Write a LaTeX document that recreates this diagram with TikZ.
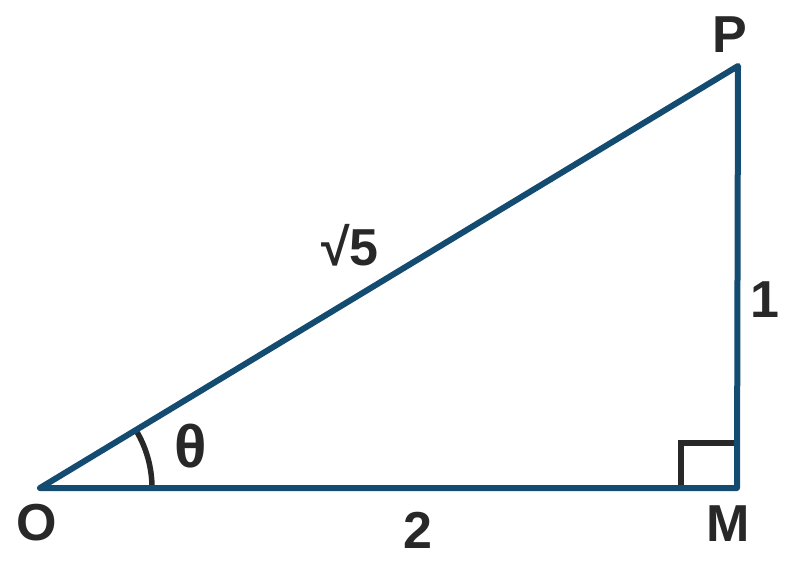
\documentclass[tikz,border=0pt]{standalone}
\usepackage{fontspec}
\setmainfont{Liberation Sans}
\begin{document}
\begin{tikzpicture}[x=1pt,y=-1pt,
  side/.style={line width=6pt, draw={rgb,255:red,20;green,75;blue,112}, line join=round, line cap=round},
  anglemark/.style={line width=5.5pt, draw={rgb,255:red,40;green,40;blue,40}},
  lbl/.style={text={rgb,255:red,40;green,40;blue,40}, font=\fontsize{52}{56}\selectfont\bfseries, inner sep=0pt}]
\useasboundingbox (0,0) rectangle (790,569);
\coordinate (O) at (40,488);
\coordinate (M) at (737,488);
\coordinate (P) at (738,66);
\draw[anglemark] (681,488) -- (681,443) -- (737,443);
\draw[anglemark] (152,488) arc[start angle=0, end angle=-31.2, radius=112];
\draw[side] (O) -- (M) -- (P) -- cycle;
\node[lbl] (lp) at (730,35) {P};
\node[lbl] (lo) at (37,523) {O};
\node[lbl] (lm) at (728,524) {M};
\node[lbl] (l2) at (418,530) {2};
\node[lbl] (l1) at (765,300) {1};
\node[lbl] (l5) at (350,245) {√5};
\node[lbl, font=\fontsize{60}{66}\selectfont\bfseries] (lt) at (191,446) {θ};
\end{tikzpicture}
\end{document}
